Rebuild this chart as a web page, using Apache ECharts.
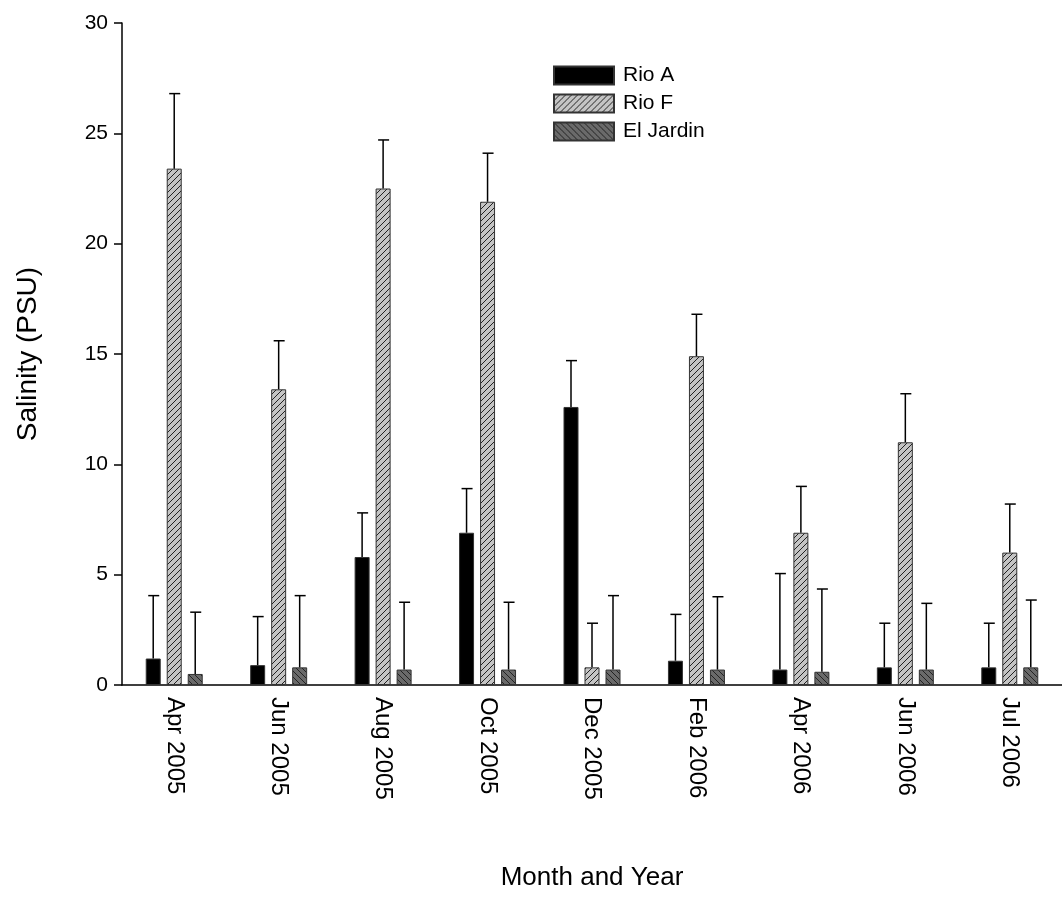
<!DOCTYPE html>
<html><head><meta charset="utf-8">
<script src="https://cdn.jsdelivr.net/npm/echarts@6/dist/echarts.min.js"></script>
<style>html,body{margin:0;background:#fff}#c{width:1062px;height:897px}</style>
</head><body><div id="c"></div>
<script>
const months = ['Apr 2005', 'Jun 2005', 'Aug 2005', 'Oct 2005', 'Dec 2005', 'Feb 2006', 'Apr 2006', 'Jun 2006', 'Jul 2006'];
const rioA = [1.2, 0.9, 5.8, 6.9, 12.6, 1.1, 0.7, 0.8, 0.8];
const rioATop = [4.05, 3.1, 7.8, 8.9, 14.7, 3.2, 5.05, 2.8, 2.8];
const rioF = [23.4, 13.4, 22.5, 21.9, 0.8, 14.9, 6.9, 11.0, 6.0];
const rioFTop = [26.8, 15.6, 24.7, 24.1, 2.8, 16.8, 9.0, 13.2, 8.2];
const jardin = [0.5, 0.8, 0.7, 0.7, 0.7, 0.7, 0.6, 0.7, 0.8];
const jardinTop = [3.3, 4.05, 3.75, 3.75, 4.05, 4.0, 4.35, 3.7, 3.85];

// hatch fill patterns
function hatch(bg, dir) {
    const cv = document.createElement('canvas');
    cv.width = 6; cv.height = 6;
    const g = cv.getContext('2d');
    g.fillStyle = bg;
    g.fillRect(0, 0, 6, 6);
    g.strokeStyle = '#222';
    g.lineWidth = 1;
    g.beginPath();
    if (dir > 0) {
        g.moveTo(-1, 7); g.lineTo(7, -1);
        g.moveTo(-1, 1); g.lineTo(1, -1);
        g.moveTo(5, 7); g.lineTo(7, 5);
    } else {
        g.moveTo(-1, -1); g.lineTo(7, 7);
        g.moveTo(5, -1); g.lineTo(7, 1);
        g.moveTo(-1, 5); g.lineTo(1, 7);
    }
    g.stroke();
    return {image: cv, repeat: 'repeat'};
}
const patF = hatch('#c4c4c4', 1);
const patJ = hatch('#6a6a6a', -1);

const BW = 15, STEP = 21;
function errSeries(name, vals, tops, off) {
    return {
        type: 'custom', name: name + ' err', silent: true, z: 5,
        data: vals.map((v, i) => [i, v, tops[i]]),
        renderItem: function(params, api) {
            const lo = api.coord([api.value(0), api.value(1)]);
            const hi = api.coord([api.value(0), api.value(2)]);
            const x = lo[0] + off * STEP;
            const st = {stroke: '#000', lineWidth: 1.5};
            return {type: 'group', children: [
                {type: 'line', shape: {x1: x, y1: lo[1], x2: x, y2: hi[1]}, style: st},
                {type: 'line', shape: {x1: x - 5, y1: hi[1], x2: x + 6, y2: hi[1]}, style: st}
            ]};
        }
    };
}

const chart = echarts.init(document.getElementById('c'));
const barStyle = {borderColor: '#333', borderWidth: 1};
chart.setOption({
    animation: false,
    textStyle: {fontFamily: 'Liberation Sans'},
    grid: {left: 122, right: 0, top: 23, bottom: 212},
    legend: {
        orient: 'vertical', left: 548, top: 60, itemWidth: 60, itemHeight: 18, itemGap: 7,
        icon: 'rect',
        textStyle: {fontSize: 21, color: '#000', padding: [0, 0, 0, 4]},
        data: ['Rio A', 'Rio F', 'El Jardin']
    },
    xAxis: {
        type: 'category', data: months,
        name: 'Month and Year', nameLocation: 'middle', nameGap: 180,
        nameTextStyle: {fontSize: 26, color: '#000'},
        axisLine: {lineStyle: {color: '#000', width: 1.5}},
        axisTick: {alignWithLabel: true, length: 8, lineStyle: {color: '#000', width: 1.5}},
        axisLabel: {rotate: -90, fontSize: 24, color: '#000', margin: 12}
    },
    yAxis: {
        type: 'value', min: 0, max: 30, interval: 5,
        name: 'Salinity (PSU)', nameLocation: 'middle', nameGap: 80,
        nameTextStyle: {fontSize: 28, color: '#000'},
        axisLine: {show: true, lineStyle: {color: '#000', width: 1.5}},
        axisTick: {show: true, length: 8, lineStyle: {color: '#000', width: 1.5}},
        axisLabel: {fontSize: 21, color: '#000', margin: 14},
        splitLine: {show: false}
    },
    series: [
        {type: 'bar', name: 'Rio A', data: rioA, barWidth: BW, barGap: '40%', itemStyle: Object.assign({color: '#000'}, barStyle)},
        {type: 'bar', name: 'Rio F', data: rioF, barWidth: BW, barGap: '40%', itemStyle: Object.assign({color: patF}, barStyle)},
        {type: 'bar', name: 'El Jardin', data: jardin, barWidth: BW, barGap: '40%', itemStyle: Object.assign({color: patJ}, barStyle)},
        errSeries('Rio A', rioA, rioATop, -1),
        errSeries('Rio F', rioF, rioFTop, 0),
        errSeries('El Jardin', jardin, jardinTop, 1)
    ]
});
</script></body></html>
